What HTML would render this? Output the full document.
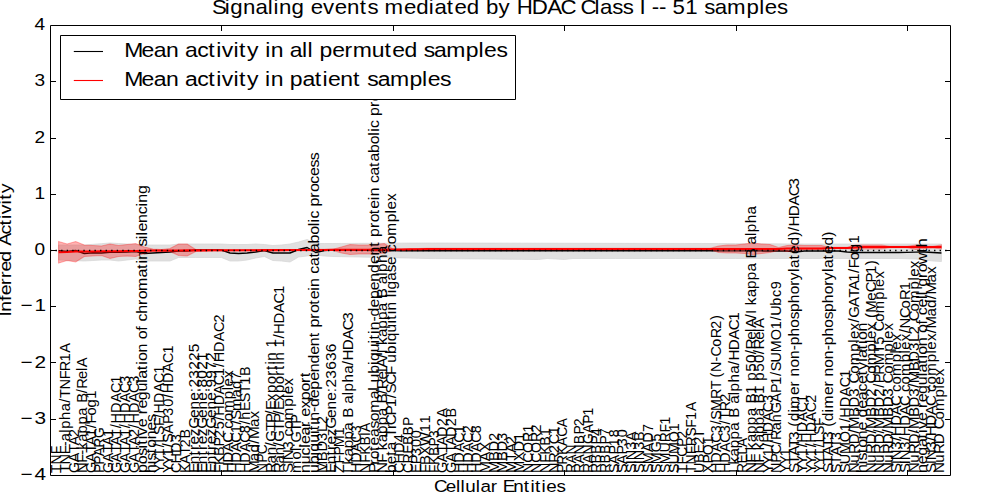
<!DOCTYPE html><html><head><meta charset="utf-8"><title>Signaling events mediated by HDAC Class I</title>
<style>html,body{margin:0;padding:0;background:#fff;overflow:hidden;}svg{display:block;}text{font-family:"Liberation Sans", sans-serif;fill:#000;white-space:pre;}</style></head><body>
<svg width="1000" height="500" viewBox="0 0 1000 500">
<rect x="0" y="0" width="1000" height="500" fill="#fff"/>
<polygon points="58.57,245.00 67.14,245.00 75.71,245.00 84.29,245.00 92.86,244.33 101.43,243.67 110.00,243.00 118.57,243.50 127.14,244.00 135.71,244.50 144.29,245.00 152.86,245.00 161.43,245.00 170.00,245.00 178.57,244.00 187.14,244.00 195.71,244.00 204.29,244.00 212.86,244.00 221.43,244.00 230.00,244.50 238.57,244.50 247.14,244.50 255.71,244.00 264.29,244.50 272.86,245.50 281.43,245.00 290.00,244.00 298.57,242.00 307.14,239.50 315.71,243.50 324.29,243.50 332.86,243.50 341.43,243.45 350.00,243.41 358.57,243.36 367.14,243.32 375.71,243.27 384.29,243.23 392.86,243.18 401.43,243.14 410.00,243.09 418.57,243.05 427.14,243.00 435.71,243.02 444.29,243.03 452.86,243.05 461.43,243.06 470.00,243.08 478.57,243.09 487.14,243.11 495.71,243.12 504.29,243.14 512.86,243.15 521.43,243.17 530.00,243.18 538.57,243.20 547.14,243.21 555.71,243.23 564.29,243.24 572.86,243.26 581.43,243.27 590.00,243.29 598.57,243.30 607.14,243.32 615.71,243.33 624.29,243.35 632.86,243.36 641.43,243.38 650.00,243.39 658.57,243.41 667.14,243.42 675.71,243.44 684.29,243.45 692.86,243.47 701.43,243.48 710.00,243.50 718.57,243.55 727.14,243.59 735.71,243.64 744.29,243.68 752.86,243.73 761.43,243.77 770.00,243.82 778.57,243.86 787.14,243.91 795.71,243.95 804.29,244.00 812.86,244.00 821.43,244.00 830.00,244.00 838.57,244.00 847.14,244.00 855.71,244.00 864.29,244.00 872.86,244.00 881.43,244.00 890.00,244.00 898.57,244.00 907.14,244.00 915.71,244.00 924.29,244.00 932.86,244.00 941.43,244.00 941.43,261.50 932.86,261.00 924.29,260.00 915.71,259.00 907.14,258.75 898.57,258.50 890.00,258.50 881.43,258.50 872.86,258.50 864.29,258.50 855.71,258.50 847.14,258.50 838.57,258.50 830.00,258.50 821.43,258.50 812.86,258.50 804.29,258.50 795.71,258.50 787.14,258.50 778.57,258.50 770.00,258.50 761.43,258.50 752.86,258.50 744.29,258.50 735.71,258.50 727.14,258.50 718.57,258.50 710.00,258.50 701.43,258.50 692.86,258.50 684.29,258.50 675.71,258.50 667.14,258.50 658.57,258.50 650.00,258.50 641.43,258.50 632.86,258.50 624.29,258.50 615.71,258.50 607.14,258.50 598.57,258.50 590.00,258.50 581.43,258.50 572.86,258.50 564.29,259.50 555.71,259.00 547.14,258.50 538.57,259.50 530.00,259.42 521.43,259.35 512.86,259.27 504.29,259.19 495.71,259.12 487.14,259.04 478.57,258.96 470.00,258.88 461.43,258.81 452.86,258.73 444.29,258.65 435.71,258.58 427.14,258.50 418.57,258.30 410.00,258.10 401.43,257.90 392.86,257.70 384.29,257.50 375.71,257.33 367.14,257.17 358.57,257.00 350.00,256.83 341.43,256.67 332.86,256.50 324.29,256.00 315.71,255.00 307.14,256.00 298.57,257.00 290.00,262.00 281.43,261.00 272.86,260.50 264.29,256.50 255.71,258.00 247.14,260.00 238.57,261.00 230.00,261.00 221.43,257.50 212.86,257.50 204.29,257.50 195.71,257.50 187.14,257.50 178.57,257.50 170.00,261.00 161.43,261.00 152.86,261.00 144.29,261.00 135.71,259.00 127.14,260.00 118.57,261.00 110.00,260.00 101.43,260.00 92.86,260.50 84.29,261.00 75.71,260.67 67.14,260.33 58.57,260.00" fill="#e0e0e0" stroke="#d4d4d4" stroke-width="0.7"/>
<polyline points="58.57,250.80 67.14,251.50 75.71,250.50 84.29,253.50 92.86,252.80 101.43,253.00 110.00,252.20 118.57,252.20 127.14,252.00 135.71,251.50 144.29,253.50 152.86,253.00 161.43,252.50 170.00,252.00 178.57,251.00 187.14,251.00 195.71,250.00 204.29,250.00 212.86,250.00 221.43,250.00 230.00,253.00 238.57,253.50 247.14,253.00 255.71,252.00 264.29,250.50 272.86,253.00 281.43,253.00 290.00,253.00 298.57,249.50 307.14,247.50 315.71,252.50 324.29,250.50 332.86,250.00 341.43,250.09 350.00,250.18 358.57,250.26 367.14,250.35 375.71,250.44 384.29,250.52 392.86,250.61 401.43,250.70 410.00,250.70 418.57,250.71 427.14,250.71 435.71,250.71 444.29,250.71 452.86,250.72 461.43,250.72 470.00,250.72 478.57,250.72 487.14,250.73 495.71,250.73 504.29,250.73 512.86,250.74 521.43,250.74 530.00,250.74 538.57,250.74 547.14,250.75 555.71,250.75 564.29,250.75 572.86,250.76 581.43,250.76 590.00,250.76 598.57,250.76 607.14,250.77 615.71,250.77 624.29,250.77 632.86,250.78 641.43,250.78 650.00,250.78 658.57,250.78 667.14,250.79 675.71,250.79 684.29,250.79 692.86,250.79 701.43,250.80 710.00,250.80 718.57,250.82 727.14,250.84 735.71,250.87 744.29,250.89 752.86,250.91 761.43,250.93 770.00,250.96 778.57,250.98 787.14,251.00 795.71,252.00 804.29,251.00 812.86,251.00 821.43,251.00 830.00,251.00 838.57,251.00 847.14,252.00 855.71,252.50 864.29,252.50 872.86,252.50 881.43,252.50 890.00,252.50 898.57,252.50 907.14,252.33 915.71,252.17 924.29,252.00 932.86,252.50 941.43,253.00" fill="none" stroke="#000" stroke-width="1.39" stroke-linejoin="round"/>
<polygon points="58.57,241.50 67.14,244.00 75.71,241.50 84.29,245.00 92.86,245.50 101.43,246.00 110.00,244.00 118.57,245.50 127.14,244.50 135.71,243.50 144.29,247.00 152.86,249.00 161.43,249.50 170.00,248.50 178.57,244.00 187.14,244.00 195.71,249.50 204.29,249.74 212.86,249.72 221.43,249.69 230.00,249.66 238.57,249.64 247.14,249.61 255.71,249.58 264.29,249.56 272.86,249.53 281.43,249.51 290.00,249.48 298.57,249.45 307.14,249.43 315.71,249.40 324.29,249.35 332.86,249.30 341.43,247.00 350.00,244.50 358.57,245.00 367.14,245.00 375.71,244.50 384.29,243.50 392.86,248.95 401.43,248.90 410.00,248.73 418.57,248.57 427.14,248.40 435.71,248.40 444.29,248.40 452.86,248.40 461.43,248.40 470.00,248.40 478.57,248.40 487.14,248.40 495.71,248.40 504.29,248.40 512.86,248.40 521.43,248.40 530.00,248.40 538.57,248.40 547.14,248.40 555.71,248.40 564.29,248.40 572.86,248.40 581.43,248.40 590.00,248.40 598.57,248.40 607.14,248.40 615.71,248.40 624.29,248.40 632.86,248.40 641.43,248.40 650.00,248.40 658.57,248.40 667.14,248.40 675.71,248.40 684.29,248.40 692.86,248.40 701.43,248.40 710.00,248.40 718.57,246.00 727.14,245.00 735.71,245.00 744.29,244.00 752.86,243.00 761.43,244.00 770.00,244.50 778.57,247.50 787.14,245.50 795.71,245.00 804.29,245.50 812.86,245.50 821.43,245.50 830.00,247.40 838.57,247.40 847.14,247.40 855.71,245.00 864.29,245.00 872.86,245.00 881.43,245.00 890.00,246.40 898.57,246.40 907.14,246.40 915.71,245.00 924.29,246.00 932.86,246.40 941.43,245.00 941.43,249.00 932.86,248.00 924.29,248.50 915.71,249.50 907.14,247.60 898.57,247.60 890.00,247.60 881.43,249.00 872.86,249.00 864.29,249.00 855.71,249.50 847.14,248.60 838.57,248.60 830.00,248.60 821.43,249.50 812.86,249.50 804.29,249.50 795.71,251.00 787.14,251.50 778.57,250.50 770.00,252.50 761.43,253.50 752.86,254.50 744.29,253.50 735.71,253.00 727.14,253.00 718.57,252.50 710.00,249.60 701.43,249.60 692.86,249.60 684.29,249.60 675.71,249.60 667.14,249.60 658.57,249.60 650.00,249.60 641.43,249.60 632.86,249.60 624.29,249.60 615.71,249.60 607.14,249.60 598.57,249.60 590.00,249.60 581.43,249.60 572.86,249.60 564.29,249.60 555.71,249.60 547.14,249.60 538.57,249.60 530.00,249.60 521.43,249.60 512.86,249.60 504.29,249.60 495.71,249.60 487.14,249.60 478.57,249.60 470.00,249.60 461.43,249.60 452.86,249.60 444.29,249.60 435.71,249.60 427.14,249.60 418.57,249.77 410.00,249.93 401.43,250.10 392.86,250.15 384.29,253.00 375.71,254.00 367.14,254.00 358.57,254.00 350.00,254.50 341.43,253.00 332.86,250.50 324.29,250.55 315.71,250.60 307.14,250.63 298.57,250.65 290.00,250.68 281.43,250.71 272.86,250.73 264.29,250.76 255.71,250.78 247.14,250.81 238.57,250.84 230.00,250.86 221.43,250.89 212.86,250.92 204.29,250.94 195.71,251.50 187.14,256.00 178.57,255.50 170.00,251.50 161.43,251.50 152.86,251.50 144.29,253.50 135.71,256.50 127.14,256.00 118.57,256.50 110.00,258.50 101.43,255.50 92.86,256.00 84.29,256.50 75.71,262.00 67.14,260.50 58.57,263.00" fill="rgba(255,0,0,0.3)" stroke="rgba(255,0,0,0.3)" stroke-width="1.1"/>
<polyline points="58.57,252.20 67.14,252.00 75.71,251.50 84.29,251.50 92.86,251.42 101.43,251.33 110.00,251.25 118.57,251.17 127.14,251.08 135.71,251.00 144.29,250.80 152.86,250.50 161.43,250.47 170.00,250.45 178.57,250.42 187.14,250.39 195.71,250.37 204.29,250.34 212.86,250.32 221.43,250.29 230.00,250.26 238.57,250.24 247.14,250.21 255.71,250.18 264.29,250.16 272.86,250.13 281.43,250.11 290.00,250.08 298.57,250.05 307.14,250.03 315.71,250.00 324.29,249.95 332.86,249.90 341.43,249.85 350.00,249.80 358.57,249.75 367.14,249.70 375.71,249.65 384.29,249.60 392.86,249.55 401.43,249.50 410.00,249.33 418.57,249.17 427.14,249.00 435.71,249.00 444.29,249.00 452.86,249.00 461.43,249.00 470.00,249.00 478.57,249.00 487.14,249.00 495.71,249.00 504.29,249.00 512.86,249.00 521.43,249.00 530.00,249.00 538.57,249.00 547.14,249.00 555.71,249.00 564.29,249.00 572.86,249.00 581.43,249.00 590.00,249.00 598.57,249.00 607.14,249.00 615.71,249.00 624.29,249.00 632.86,249.00 641.43,249.00 650.00,249.00 658.57,249.00 667.14,249.00 675.71,249.00 684.29,249.00 692.86,249.00 701.43,249.00 710.00,249.00 718.57,249.00 727.14,249.00 735.71,249.00 744.29,249.00 752.86,249.00 761.43,249.00 770.00,249.00 778.57,249.00 787.14,248.50 795.71,248.50 804.29,248.50 812.86,248.50 821.43,248.50 830.00,248.00 838.57,248.00 847.14,248.00 855.71,247.50 864.29,247.00 872.86,247.00 881.43,247.00 890.00,247.00 898.57,247.00 907.14,247.00 915.71,247.00 924.29,247.00 932.86,247.00 941.43,247.00" fill="none" stroke="#f00" stroke-width="2.08" stroke-linejoin="round"/>
<line x1="50" y1="250.5" x2="950" y2="250.5" stroke="#000" stroke-width="1.39" stroke-dasharray="1.39 4.17"/>
<text transform="translate(61.37,473.10) rotate(-90) scale(0.9567,1)" x="0.00 8.87 19.73" y="0" font-size="14.45">TNF</text>
<text transform="translate(69.94,473.10) rotate(-90) scale(1.0115,1)" x="0.00 8.39 18.66 26.56 31.51 39.93 43.74 52.46 61.16 69.58 74.21 82.59 92.86 100.76 110.31 119.04" y="0" font-size="14.45">TNF-alpha/TNFR1A</text>
<text transform="translate(78.51,473.10) rotate(-90) scale(0.9936,1)" x="0.00 10.83 20.40 27.85 36.33" y="0" font-size="14.45">GATA2</text>
<text transform="translate(87.09,473.10) rotate(-90) scale(1.0268,1)" x="0.00 10.12 17.90 22.78 30.62 38.67 47.26 55.84 64.13 68.44 77.72 82.27 91.67 99.39 103.15" y="0" font-size="14.45">NF-kappa B/RelA</text>
<text transform="translate(95.66,473.10) rotate(-90) scale(1.0134,1)" x="0.00 10.62 20.00 27.31 35.62 44.34 48.96 56.84 64.74 73.44" y="0" font-size="14.45">GATA1/Fog1</text>
<text transform="translate(104.23,473.10) rotate(-90) scale(0.9500,1)" x="0.00 8.82 17.63 26.70 36.86" y="0" font-size="14.45">PPARG</text>
<text transform="translate(112.80,473.10) rotate(-90) scale(0.9936,1)" x="0.00 10.83 20.40 27.85 36.33" y="0" font-size="14.45">GATA1</text>
<text transform="translate(121.37,473.10) rotate(-90) scale(1.0010,1)" x="0.00 10.75 20.24 27.64 36.06 44.89 49.56 60.00 70.68 79.93 89.37" y="0" font-size="14.45">GATA1/HDAC1</text>
<text transform="translate(129.94,473.10) rotate(-90) scale(1.0010,1)" x="0.00 10.75 20.24 27.64 36.06 44.89 49.56 60.00 70.68 79.93 89.37" y="0" font-size="14.45">GATA1/HDAC3</text>
<text transform="translate(138.51,473.10) rotate(-90) scale(1.0010,1)" x="0.00 10.75 20.24 27.64 36.06 44.89 49.56 60.00 70.68 79.93 89.37" y="0" font-size="14.45">GATA2/HDAC3</text>
<text transform="translate(147.09,473.10) rotate(-90) scale(1.1070,1)" x="0.00 7.96 15.64 22.18 25.67 30.59 34.07 41.50 49.22 53.21 58.36 65.81 73.77 81.73 85.21 92.90 97.82 101.31 108.98 116.94 120.93 128.60 133.02 137.01 143.91 151.86 157.02 164.42 176.65 184.34 189.26 192.74 200.69 204.68 211.22 214.71 218.19 225.91 233.87 240.76 244.25 252.20" y="0" font-size="14.45">positive regulation of chromatin silencing</text>
<text transform="translate(155.66,473.10) rotate(-90) scale(1.0860,1)" x="0.00 8.11 11.66 18.32 23.34 31.17 39.27 47.14" y="0" font-size="14.45">histones</text>
<text transform="translate(164.23,473.10) rotate(-90) scale(0.9784,1)" x="0.00 8.67 17.34 26.38 31.16 39.07 48.08 56.25 61.03 71.70 82.64 92.10 101.76" y="0" font-size="14.45">YY1/LSF/HDAC1</text>
<text transform="translate(172.80,473.10) rotate(-90) scale(0.9939,1)" x="0.00 8.54 17.07 25.97 30.67 39.55 49.37 57.79 66.68 75.58 80.29 90.79 101.56 110.87 120.38" y="0" font-size="14.45">YY1/SAP30/HDAC1</text>
<text transform="translate(181.37,473.10) rotate(-90) scale(1.0088,1)" x="0.00 9.61 19.97 30.57" y="0" font-size="14.45">CHD3</text>
<text transform="translate(189.94,473.10) rotate(-90) scale(0.9876,1)" x="0.00 9.22 18.60 26.10 35.04" y="0" font-size="14.45">KAT2B</text>
<text transform="translate(198.51,473.10) rotate(-90) scale(1.0703,1)" x="0.00 8.20 16.43 21.52 26.85 34.55 41.36 51.42 59.40 67.63 75.62 79.99 88.25 96.50 104.76 113.02" y="0" font-size="14.45">EntrezGene:23225</text>
<text transform="translate(207.09,473.10) rotate(-90) scale(1.0682,1)" x="0.00 8.22 16.46 21.56 26.90 34.62 41.44 51.52 59.52 67.76 75.76 80.15 88.42 96.69 104.97" y="0" font-size="14.45">EntrezGene:8021</text>
<text transform="translate(215.66,473.10) rotate(-90) scale(1.0682,1)" x="0.00 8.22 16.46 21.56 26.90 34.62 41.44 51.52 59.52 67.76 75.76 80.15 88.42 96.69 104.97" y="0" font-size="14.45">EntrezGene:9972</text>
<text transform="translate(224.23,473.10) rotate(-90) scale(0.9979,1)" x="0.00 8.01 17.14 26.68 35.08 43.94 52.79 57.48 67.95 78.67 87.94 97.42 106.28 110.97 121.43 132.15 141.43 150.90" y="0" font-size="14.45">FKBP25/HDAC1/HDAC2</text>
<text transform="translate(232.80,473.10) rotate(-90) scale(1.0445,1)" x="0.00 10.00 20.24 29.10 38.15 42.38 49.69 57.83 70.78 79.23 82.92 91.10" y="0" font-size="14.45">HDAC complex</text>
<text transform="translate(241.37,473.10) rotate(-90) scale(1.0317,1)" x="0.00 10.12 20.49 29.46 38.63 47.19 51.73 60.28 73.39 81.64 90.19" y="0" font-size="14.45">HDAC1/Smad7</text>
<text transform="translate(249.94,473.10) rotate(-90) scale(0.9985,1)" x="0.00 10.46 21.17 30.44 39.91 48.76 53.45 62.27 71.06 79.89 88.39 97.24" y="0" font-size="14.45">HDAC8/hEST1B</text>
<text transform="translate(258.51,473.10) rotate(-90) scale(1.0556,1)" x="0.00 11.35 19.42 27.77 32.20 43.56 51.62" y="0" font-size="14.45">Mad/Max</text>
<text transform="translate(267.09,473.10) rotate(-90) scale(0.9500,1)" x="0.00 10.94 19.75" y="0" font-size="14.45">NPC</text>
<text transform="translate(275.66,473.10) rotate(-90) scale(1.0408,1)" x="0.00 9.27 17.16 25.62 30.11 40.46 48.13 56.18 60.68 69.11 77.01 85.48 93.65 99.13 104.37 108.07 116.53 120.77" y="0" font-size="14.45">Ran/GTP/Exportin 1</text>
<text transform="translate(284.23,473.10) rotate(-90) scale(1.0311,1)" x="0.00 9.36 17.32 25.86 30.40 40.84 48.59 56.71 61.25 69.76 77.73 86.29 94.53 100.07 105.35 109.09 117.63 121.91 130.48 135.02 145.15 155.53 164.50 173.67" y="0" font-size="14.45">Ran/GTP/Exportin 1/HDAC1</text>
<text transform="translate(292.80,473.10) rotate(-90) scale(1.0612,1)" x="0.00 8.31 12.17 21.96 30.29 34.45 41.65 49.66 62.41 70.71 74.35 82.40" y="0" font-size="14.45">SIN3 complex</text>
<text transform="translate(301.37,473.10) rotate(-90) scale(1.0125,1)" x="0.00 13.36 21.76 25.57 30.19 40.82 48.71" y="0" font-size="14.45">mol:GTP</text>
<text transform="translate(309.94,473.10) rotate(-90) scale(1.1064,1)" x="0.00 7.96 15.91 22.82 26.31 34.03 41.72 46.88 50.88 58.60 65.81 73.78 81.46 86.62" y="0" font-size="14.45">nuclear export</text>
<text transform="translate(318.51,473.10) rotate(-90) scale(1.1007,1)" x="0.00 8.00 16.01 19.51 27.52 35.52 39.03 43.98 47.48 55.48 60.03 68.04 75.81 83.82 91.58 99.58 107.59 115.35 123.35 128.30 132.31 140.32 145.51 152.95 157.90 165.67 169.17 177.17 181.18 188.12 195.85 200.80 208.53 216.54 224.26 227.77 231.28 238.21 242.23 250.24 255.42 262.87 269.81 277.57 284.14" y="0" font-size="14.45">ubiquitin-dependent protein catabolic process</text>
<text transform="translate(327.09,473.10) rotate(-90) scale(1.0252,1)" x="0.00 11.69 20.98 31.42 40.04 47.58" y="0" font-size="14.45">MBD3L2</text>
<text transform="translate(335.66,473.10) rotate(-90) scale(1.0703,1)" x="0.00 8.20 16.43 21.52 26.85 34.55 41.36 51.42 59.40 67.63 75.62 79.99 88.25 96.50 104.76 113.02" y="0" font-size="14.45">EntrezGene:23636</text>
<text transform="translate(344.23,473.10) rotate(-90) scale(0.9863,1)" x="0.00 9.65 17.75 26.24 38.39" y="0" font-size="14.45">ZFPM1</text>
<text transform="translate(352.80,473.10) rotate(-90) scale(1.0510,1)" x="0.00 3.90 8.10 15.75 23.62 32.01 40.40 48.49 52.70 61.76 65.96 74.06 77.73 86.12 94.50 102.60 107.05 116.99 127.16 135.97 144.97" y="0" font-size="14.45">I kappa B alpha/HDAC3</text>
<text transform="translate(361.37,473.10) rotate(-90) scale(0.9943,1)" x="0.00 10.50 21.26 30.57 40.08" y="0" font-size="14.45">HDAC3</text>
<text transform="translate(369.94,473.10) rotate(-90) scale(0.9701,1)" x="0.00 10.71 18.95 28.34 38.16 42.38" y="0" font-size="14.45">NFKBIA</text>
<text transform="translate(378.51,473.10) rotate(-90) scale(1.0925,1)" x="0.00 7.67 12.67 20.17 25.16 32.98 40.77 47.39 55.17 67.56 75.35 78.88 82.92 90.98 99.05 102.58 110.65 118.71 122.24 127.23 130.76 138.82 143.41 151.48 159.30 167.37 175.19 183.25 191.32 199.14 207.20 212.19 216.23 224.30 229.53 237.03 242.01 249.83 253.37 261.43 265.47 272.46 280.25 285.23 293.03 301.10 308.87 312.41 315.94 322.93 326.97 335.04 340.27 347.77 354.76 362.58 369.21" y="0" font-size="14.45">Proteasomal ubiquitin-dependent protein catabolic process</text>
<text transform="translate(387.09,473.10) rotate(-90) scale(1.0524,1)" x="0.00 9.87 17.47 21.66 29.31 37.16 45.54 53.92 62.01 66.20 75.26 79.70 88.87 96.40 100.07 109.10 113.55 117.44 121.63 129.28 137.13 145.51 153.89 161.98 166.17 175.23 179.42 187.51 191.18 199.56 207.92" y="0" font-size="14.45">NF kappa B/RelA/I kappa B alpha</text>
<text transform="translate(395.66,473.10) rotate(-90) scale(1.0632,1)" x="0.00 8.29 16.33 21.45 29.46 33.61 41.59 45.05 54.17 62.05 70.36 74.76 83.06 92.18 99.69 103.85 112.13 120.42 124.05 132.34 140.63 144.25 149.38 153.01 161.29 165.44 169.07 172.70 180.99 189.00 195.81 203.84 208.00 215.18 223.17 235.90 244.20 247.82 255.86" y="0" font-size="14.45">beta TrCP1/SCF ubiquitin ligase complex</text>
<text transform="translate(404.23,473.10) rotate(-90) scale(1.0088,1)" x="0.00 9.61 19.97 30.57" y="0" font-size="14.45">CHD4</text>
<text transform="translate(412.80,473.10) rotate(-90) scale(0.9500,1)" x="0.00 10.21 20.37 29.61 39.64 49.67" y="0" font-size="14.45">CREBBP</text>
<text transform="translate(421.37,473.10) rotate(-90) scale(1.0067,1)" x="0.00 8.72 17.04 25.82 34.60" y="0" font-size="14.45">EP300</text>
<text transform="translate(429.94,473.10) rotate(-90) scale(1.0303,1)" x="0.00 7.76 17.00 26.24 39.57 48.15" y="0" font-size="14.45">FBXW11</text>
<text transform="translate(438.51,473.10) rotate(-90) scale(0.9580,1)" x="0.00 8.34 17.85 27.80 36.54" y="0" font-size="14.45">FKBP3</text>
<text transform="translate(447.09,473.10) rotate(-90) scale(0.9975,1)" x="0.00 10.79 20.32 27.74 36.18 46.91 55.76" y="0" font-size="14.45">GATAD2A</text>
<text transform="translate(455.66,473.10) rotate(-90) scale(0.9980,1)" x="0.00 10.79 20.31 27.73 36.17 46.89 55.74" y="0" font-size="14.45">GATAD2B</text>
<text transform="translate(464.23,473.10) rotate(-90) scale(0.9943,1)" x="0.00 10.50 21.26 30.57 40.08" y="0" font-size="14.45">HDAC1</text>
<text transform="translate(472.80,473.10) rotate(-90) scale(0.9943,1)" x="0.00 10.50 21.26 30.57 40.08" y="0" font-size="14.45">HDAC2</text>
<text transform="translate(481.37,473.10) rotate(-90) scale(0.9943,1)" x="0.00 10.50 21.26 30.57 40.08" y="0" font-size="14.45">HDAC8</text>
<text transform="translate(489.94,473.10) rotate(-90) scale(0.9903,1)" x="0.00 12.10 21.70" y="0" font-size="14.45">MAX</text>
<text transform="translate(498.51,473.10) rotate(-90) scale(1.0227,1)" x="0.00 11.72 21.04 31.49" y="0" font-size="14.45">MBD2</text>
<text transform="translate(507.09,473.10) rotate(-90) scale(1.0227,1)" x="0.00 11.72 21.04 31.49" y="0" font-size="14.45">MBD3</text>
<text transform="translate(515.66,473.10) rotate(-90) scale(1.0073,1)" x="0.00 11.90 20.32 28.68" y="0" font-size="14.45">MTA2</text>
<text transform="translate(524.23,473.10) rotate(-90) scale(1.0223,1)" x="0.00 11.72 21.03 31.49" y="0" font-size="14.45">MXD1</text>
<text transform="translate(532.80,473.10) rotate(-90) scale(0.9791,1)" x="0.00 10.61 20.52 31.68 41.54" y="0" font-size="14.45">NCOR1</text>
<text transform="translate(541.37,473.10) rotate(-90) scale(0.9791,1)" x="0.00 10.61 20.52 31.68 41.54" y="0" font-size="14.45">NCOR2</text>
<text transform="translate(549.94,473.10) rotate(-90) scale(0.9848,1)" x="0.00 10.55 18.66 27.91 37.59" y="0" font-size="14.45">NFKB1</text>
<text transform="translate(558.51,473.10) rotate(-90) scale(1.0011,1)" x="0.00 10.38 20.02 28.85 38.54" y="0" font-size="14.45">NR2C1</text>
<text transform="translate(567.09,473.10) rotate(-90) scale(0.9500,1)" x="0.00 8.82 18.98 28.56 38.31 48.26" y="0" font-size="14.45">PRKACA</text>
<text transform="translate(575.66,473.10) rotate(-90) scale(0.9502,1)" x="0.00 10.16 19.57" y="0" font-size="14.45">RAN</text>
<text transform="translate(584.23,473.10) rotate(-90) scale(0.9640,1)" x="0.00 10.01 19.28 30.06 39.95 48.64" y="0" font-size="14.45">RANBP2</text>
<text transform="translate(592.80,473.10) rotate(-90) scale(0.9626,1)" x="0.00 10.03 19.31 30.11 41.29 51.16 59.86" y="0" font-size="14.45">RANGAP1</text>
<text transform="translate(601.37,473.10) rotate(-90) scale(0.9694,1)" x="0.00 9.96 19.79 29.62 38.26" y="0" font-size="14.45">RBBP4</text>
<text transform="translate(609.94,473.10) rotate(-90) scale(0.9694,1)" x="0.00 9.96 19.79 29.62 38.26" y="0" font-size="14.45">RBBP7</text>
<text transform="translate(618.51,473.10) rotate(-90) scale(0.9923,1)" x="0.00 8.89 18.72 27.16 36.07" y="0" font-size="14.45">SAP18</text>
<text transform="translate(627.09,473.10) rotate(-90) scale(0.9923,1)" x="0.00 8.89 18.72 27.16 36.07" y="0" font-size="14.45">SAP30</text>
<text transform="translate(635.66,473.10) rotate(-90) scale(0.9974,1)" x="0.00 8.84 12.95 23.36 32.22" y="0" font-size="14.45">SIN3A</text>
<text transform="translate(644.23,473.10) rotate(-90) scale(0.9981,1)" x="0.00 8.83 12.94 23.35 32.20" y="0" font-size="14.45">SIN3B</text>
<text transform="translate(652.80,473.10) rotate(-90) scale(1.0013,1)" x="0.00 8.81 20.77 30.26 40.95" y="0" font-size="14.45">SMAD7</text>
<text transform="translate(661.37,473.10) rotate(-90) scale(0.9869,1)" x="0.00 8.93 21.08 31.98" y="0" font-size="14.45">SMG5</text>
<text transform="translate(669.94,473.10) rotate(-90) scale(0.9672,1)" x="0.00 9.12 21.51 32.02 42.00 50.26" y="0" font-size="14.45">SMURF1</text>
<text transform="translate(678.51,473.10) rotate(-90) scale(0.9877,1)" x="0.00 8.93 19.22 31.35 42.42" y="0" font-size="14.45">SUMO1</text>
<text transform="translate(687.09,473.10) rotate(-90) scale(0.9500,1)" x="0.00 8.93 17.34 27.55 36.37" y="0" font-size="14.45">TFCP2</text>
<text transform="translate(695.66,473.10) rotate(-90) scale(0.9601,1)" x="0.00 8.84 19.66 27.98 38.04 47.22 55.54 64.75" y="0" font-size="14.45">TNFRSF1A</text>
<text transform="translate(704.23,473.10) rotate(-90) scale(0.9917,1)" x="0.00 10.25 19.86 28.71 37.62" y="0" font-size="14.45">UBE2I</text>
<text transform="translate(712.80,473.10) rotate(-90) scale(0.9772,1)" x="0.00 9.74 18.31 29.50" y="0" font-size="14.45">XPO1</text>
<text transform="translate(721.37,473.10) rotate(-90) scale(0.9965,1)" x="0.00 10.48 21.21 30.50 39.99 48.86 53.56 62.41 74.43 84.12 91.62 96.05 101.49 111.91 116.94 126.68 135.21 144.89 153.76" y="0" font-size="14.45">HDAC3/SMRT (N-CoR2)</text>
<text transform="translate(729.94,473.10) rotate(-90)" x="0.00 10.44 21.12 30.37 39.82 48.65 53.32 61.80 71.44" y="0" font-size="14.45">HDAC3/TR2</text>
<text transform="translate(738.51,473.10) rotate(-90) scale(1.0510,1)" x="0.00 3.90 8.10 15.75 23.62 32.01 40.40 48.49 52.70 61.76 65.96 74.06 77.73 86.12 94.50 102.60 107.05 116.99 127.16 135.97 144.97" y="0" font-size="14.45">I kappa B alpha/HDAC1</text>
<text transform="translate(747.09,473.10) rotate(-90) scale(0.9536,1)" x="0.00 10.12 19.32 27.44" y="0" font-size="14.45">RELA</text>
<text transform="translate(755.66,473.10) rotate(-90) scale(1.0591,1)" x="0.00 9.81 17.35 21.52 29.12 36.92 45.25 53.57 61.61 65.78 74.78 83.12 87.29 95.61 103.96 112.30 116.72 125.83 133.31 136.96 145.93 150.35 154.22 158.38 165.98 173.79 182.11 190.44 198.47 202.64 211.64 215.81 223.84 227.49 235.81 244.12" y="0" font-size="14.45">NF kappa B1 p50/RelA/I kappa B alpha</text>
<text transform="translate(764.23,473.10) rotate(-90) scale(1.0460,1)" x="0.00 9.93 17.57 21.79 29.48 37.39 45.82 54.24 62.38 66.60 75.71 84.16 88.38 96.81 105.26 113.71 118.18 127.41 134.98 138.67" y="0" font-size="14.45">NF kappa B1 p50/RelA</text>
<text transform="translate(772.80,473.10) rotate(-90) scale(0.9862,1)" x="0.00 8.60 17.21 26.17 30.91 41.51 52.35 61.74 71.32" y="0" font-size="14.45">YY1/HDAC3</text>
<text transform="translate(781.37,473.10) rotate(-90)" x="0.00 10.38 18.75 28.44 33.12 42.76 50.96 59.76 70.51 80.00 88.37 97.20 101.88 110.69 120.85 132.82 143.74 152.57 157.25 167.41 176.22 183.85" y="0" font-size="14.45">NPC/RanGAP1/SUMO1/Ubc9</text>
<text transform="translate(789.94,473.10) rotate(-90) scale(0.9500,1)" x="0.00 8.93 17.86" y="0" font-size="14.45">YY1</text>
<text transform="translate(798.51,473.10) rotate(-90) scale(1.0646,1)" x="0.00 8.28 16.25 24.16 31.12 39.42 43.57 48.66 56.94 60.57 73.28 81.30 86.67 90.82 99.08 107.07 115.34 120.04 128.33 136.60 144.58 151.38 159.66 167.93 175.91 181.27 189.00 192.62 200.62 205.73 213.76 222.04 227.13 231.53 241.34 251.38 260.08 268.96" y="0" font-size="14.45">STAT3 (dimer non-phosphorylated)/HDAC3</text>
<text transform="translate(807.09,473.10) rotate(-90) scale(0.9862,1)" x="0.00 8.60 17.21 26.17 30.91 41.51 52.35 61.74 71.32" y="0" font-size="14.45">YY1/HDAC1</text>
<text transform="translate(815.66,473.10) rotate(-90) scale(0.9862,1)" x="0.00 8.60 17.21 26.17 30.91 41.51 52.35 61.74 71.32" y="0" font-size="14.45">YY1/HDAC2</text>
<text transform="translate(824.23,473.10) rotate(-90) scale(0.9519,1)" x="0.00 8.91 17.83 27.11 32.03 40.16 49.42" y="0" font-size="14.45">YY1/LSF</text>
<text transform="translate(832.80,473.10) rotate(-90) scale(1.0781,1)" x="0.00 8.18 16.05 23.86 30.73 38.93 43.02 48.05 56.23 59.81 72.36 80.28 85.58 89.68 97.84 105.72 113.89 118.54 126.72 134.88 142.77 149.48 157.66 165.82 173.70 179.00 186.63 190.20 198.10 203.15 211.08 219.26" y="0" font-size="14.45">STAT3 (dimer non-phosphorylated)</text>
<text transform="translate(841.37,473.10) rotate(-90) scale(0.9803,1)" x="0.00 8.99 17.65 26.24 33.80" y="0" font-size="14.45">STAT3</text>
<text transform="translate(849.94,473.10) rotate(-90) scale(0.9977,1)" x="0.00 8.84 19.03 31.04 42.00 50.86 55.55 66.02 76.74 86.02 95.49" y="0" font-size="14.45">SUMO1/HDAC1</text>
<text transform="translate(858.51,473.10) rotate(-90) scale(1.0342,1)" x="0.00 10.05 18.56 27.89 38.24 42.76 54.35 63.56 73.91 82.45 86.72 96.10 104.32 117.40 125.93 129.66 137.92 145.63 150.16 160.57 169.76 176.92 185.06 193.61 198.13 205.86 213.60 222.12" y="0" font-size="14.45">NuRD/MBD3 Complex/GATA1/Fog1</text>
<text transform="translate(867.09,473.10) rotate(-90) scale(1.1075,1)" x="0.00 7.95 11.43 17.97 22.89 30.56 38.51 46.23 50.21 58.17 65.89 73.58 80.47 88.19 93.11 100.53 104.02 111.70 116.62 120.10 127.78" y="0" font-size="14.45">histone deacetylation</text>
<text transform="translate(875.66,473.10) rotate(-90) scale(1.0339,1)" x="0.00 10.05 18.56 27.90 38.24 42.77 54.36 63.58 73.92 82.47 86.74 96.12 104.34 117.42 125.95 129.68 137.95 145.66 149.93 155.17 166.77 175.03 184.41 192.51 201.06" y="0" font-size="14.45">NuRD/MBD2 Complex (MeCP1)</text>
<text transform="translate(884.23,473.10) rotate(-90) scale(1.0261,1)" x="0.00 10.13 18.71 28.11 38.54 43.10 54.78 64.06 74.49 83.10 87.66 95.82 105.23 116.91 125.18 133.79 138.09 147.55 155.83 169.01 177.61 181.37 189.70" y="0" font-size="14.45">NuRD/MBD2/PRMT5 Complex</text>
<text transform="translate(892.80,473.10) rotate(-90) scale(1.0423,1)" x="0.00 9.97 18.42 27.67 37.94 42.43 53.92 63.07 73.33 81.81 86.04 95.35 103.50 116.48 124.94 128.64 136.84" y="0" font-size="14.45">NuRD/MBD3 Complex</text>
<text transform="translate(901.37,473.10) rotate(-90) scale(1.0377,1)" x="0.00 8.50 12.44 22.46 30.97 35.48 45.55 55.86 64.78 73.89 78.14 85.50 93.69 106.73 115.23 118.95 127.18" y="0" font-size="14.45">SIN3/HDAC complex</text>
<text transform="translate(909.94,473.10) rotate(-90) scale(1.0293,1)" x="0.00 8.57 12.55 22.64 31.23 35.77 45.92 56.31 65.30 74.49 78.78 86.20 94.45 107.60 116.16 119.91 128.22 135.96 140.51 150.61 160.03 168.28 177.66" y="0" font-size="14.45">SIN3/HDAC complex/NCoR1</text>
<text transform="translate(918.51,473.10) rotate(-90) scale(1.0400,1)" x="0.00 9.99 18.46 27.74 38.02 42.52 54.04 63.20 73.49 81.98 86.48 98.01 107.17 117.45 125.95 133.39 141.89 146.13 155.46 163.63 176.64 185.12 188.83 197.04" y="0" font-size="14.45">NuRD/MBD3/MBD3L2 Complex</text>
<text transform="translate(927.09,473.10) rotate(-90) scale(1.1107,1)" x="0.00 7.93 15.62 23.56 31.22 36.13 39.60 47.00 54.69 58.67 63.81 71.23 79.17 87.10 90.57 98.23 103.14 106.61 114.26 122.19 126.16 133.82 138.22 142.19 149.07 156.76 160.24 163.71 167.69 175.62 180.77 188.14 198.37 203.28" y="0" font-size="14.45">negative regulation of cell growth</text>
<text transform="translate(935.66,473.10) rotate(-90) scale(1.0457,1)" x="0.00 8.43 12.35 22.29 30.74 35.21 45.20 55.43 64.28 73.32 77.55 84.85 92.98 105.92 114.35 118.04 126.21 133.84 138.32 149.78 157.92 166.35 170.82 182.29 190.43" y="0" font-size="14.45">SIN3/HDAC complex/Mad/Max</text>
<text transform="translate(944.23,473.10) rotate(-90) scale(1.0452,1)" x="0.00 9.94 18.36 27.60 37.83 42.06 51.34 59.47 72.41 80.85 84.54 92.72" y="0" font-size="14.45">NuRD Complex</text>
<path d="M50.5,25.5H950.5V475.5H50.5Z" fill="none" stroke="#000" stroke-width="1"/>
<path d="M50.50,26v5M50.50,475v-5M221.50,26v5M221.50,475v-5M393.50,26v5M393.50,475v-5M564.50,26v5M564.50,475v-5M736.50,26v5M736.50,475v-5M907.50,26v5M907.50,475v-5M51,475.50h5M950,475.50h-5M51,419.50h5M950,419.50h-5M51,362.50h5M950,362.50h-5M51,306.50h5M950,306.50h-5M51,250.50h5M950,250.50h-5M51,194.50h5M950,194.50h-5M51,138.50h5M950,138.50h-5M51,81.50h5M950,81.50h-5M51,25.50h5M950,25.50h-5" stroke="#000" stroke-width="1" fill="none"/>
<text transform="translate(45.00,480.00) scale(1.2000,1)" x="-20.48 -8.84" y="0" font-size="17.34">−4</text>
<text transform="translate(45.00,423.75) scale(1.2000,1)" x="-20.48 -8.84" y="0" font-size="17.34">−3</text>
<text transform="translate(45.00,367.50) scale(1.2000,1)" x="-20.48 -8.84" y="0" font-size="17.34">−2</text>
<text transform="translate(45.00,311.25) scale(1.2000,1)" x="-20.48 -8.84" y="0" font-size="17.34">−1</text>
<text transform="translate(45.00,255.00) scale(1.1000,1)" x="-9.64" y="0" font-size="17.34">0</text>
<text transform="translate(45.00,198.75) scale(1.1000,1)" x="-9.64" y="0" font-size="17.34">1</text>
<text transform="translate(45.00,142.50) scale(1.1000,1)" x="-9.64" y="0" font-size="17.34">2</text>
<text transform="translate(45.00,86.25) scale(1.1000,1)" x="-9.64" y="0" font-size="17.34">3</text>
<text transform="translate(45.00,30.00) scale(1.1000,1)" x="-9.64" y="0" font-size="17.34">4</text>
<text transform="translate(499.70,13.50) scale(1.0706,1)" x="-268.79 -256.93 -251.74 -239.89 -228.05 -216.60 -211.41 -206.22 -194.38 -182.52 -176.58 -165.09 -154.04 -142.54 -130.70 -123.38 -113.64 -107.71 -89.51 -78.02 -66.16 -60.97 -49.52 -42.20 -30.70 -18.85 -12.91 -1.05 10.00 15.94 29.99 44.37 56.82 69.54 75.48 88.52 93.71 105.16 114.89 124.63 130.56 136.07 142.01 148.75 155.49 161.43 173.32 185.20 191.14 200.87 212.32 230.52 242.38 247.57 259.06" y="0" font-size="20.80">Signaling events mediated by HDAC Class I -- 51 samples</text>
<text transform="translate(499.60,492.40) scale(1.0884,1)" x="-60.22 -49.53 -40.11 -35.85 -31.60 -21.89 -17.63 -8.25 -1.95 2.92 12.59 22.30 28.31 32.56 38.57 42.82 52.24" y="0" font-size="17.34">Cellular Entities</text>
<text transform="translate(11.30,250.00) rotate(-90) scale(1.1233,1)" x="-59.26 -54.88 -45.48 -40.25 -31.12 -25.02 -19.18 -10.38 -0.96 3.76 13.91 21.81 27.63 31.75 40.53 44.66 50.48" y="0" font-size="17.34">Inferred Activity</text>
<path d="M60.5,35.5H515.5V99.5H60.5Z" fill="#fff" stroke="#000" stroke-width="1"/>
<line x1="73.8" y1="51.5" x2="103" y2="51.5" stroke="#000" stroke-width="1.1"/>
<line x1="73.8" y1="80.5" x2="103" y2="80.5" stroke="#f00" stroke-width="1.1"/>
<text transform="translate(124.20,56.80) scale(1.1032,1)" x="0.00 15.64 26.80 37.91 49.40 55.16 66.27 76.24 83.35 88.38 99.11 104.15 111.26 121.98 127.75 132.78 144.28 150.04 161.15 166.18 171.22 176.98 188.49 199.65 207.10 224.44 235.93 243.04 254.19 265.70 271.46 280.91 292.02 309.68 321.19 326.22 337.38" y="0" font-size="20.80">Mean activity in all permuted samples</text>
<text transform="translate(124.20,85.60) scale(1.1064,1)" x="0.00 15.60 26.72 37.79 49.25 55.00 66.08 76.01 83.10 88.12 98.82 103.84 110.93 121.63 127.37 132.40 143.85 149.60 161.07 172.15 179.24 184.26 195.38 206.84 213.93 219.67 229.09 240.17 257.78 269.25 274.27 285.39" y="0" font-size="20.80">Mean activity in patient samples</text>
</svg></body></html>
